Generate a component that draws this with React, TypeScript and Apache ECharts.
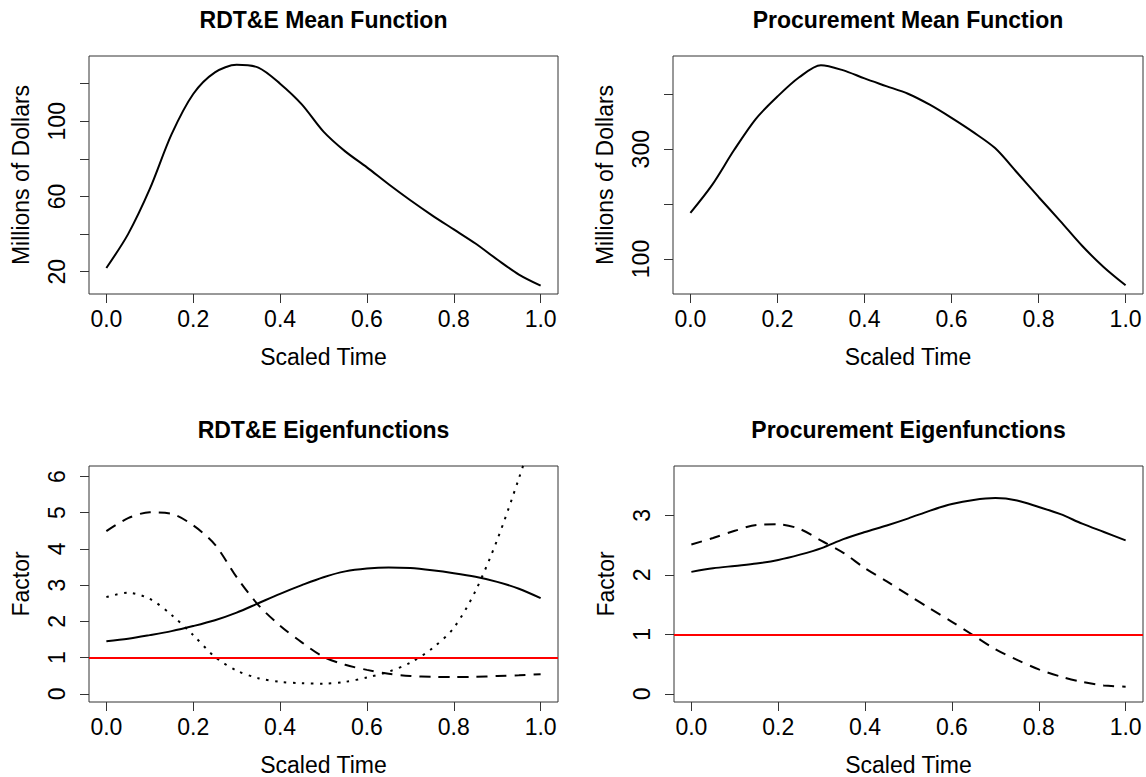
import React, { useEffect, useRef } from "react";
import * as echarts from "echarts";

const scaledTime = [0, 0.05, 0.1, 0.15, 0.2, 0.25, 0.3, 0.35, 0.4, 0.45, 0.5, 0.55, 0.6, 0.65, 0.7, 0.75, 0.8, 0.85, 0.9, 0.95, 1.0];

const rdteMean = [22, 40, 64, 93, 114.5, 126, 130, 128.5, 120, 109, 94.5, 84, 75.5, 66.5, 58, 50, 42.5, 35, 26.5, 18.5, 12.6];
const procMean = [184, 235, 298, 355, 396, 431, 453, 444, 429, 415, 401, 381, 357, 331, 302, 258, 213, 169, 124, 85, 52];

const rdteEigen1 = [1.45, 1.52, 1.62, 1.73, 1.87, 2.03, 2.24, 2.5, 2.76, 3.0, 3.22, 3.38, 3.46, 3.49, 3.47, 3.41, 3.33, 3.23, 3.09, 2.9, 2.64];
const rdteEigen2 = [4.49, 4.85, 5.01, 4.97, 4.65, 4.12, 3.22, 2.45, 1.88, 1.42, 1.02, 0.8, 0.66, 0.55, 0.49, 0.47, 0.46, 0.47, 0.49, 0.51, 0.54];
const rdteEigen3 = [2.67, 2.79, 2.62, 2.18, 1.62, 1.02, 0.64, 0.43, 0.33, 0.29, 0.28, 0.33, 0.45, 0.61, 0.86, 1.25, 1.82, 2.84, 4.25, 5.95, 7.8];

const procEigen1 = [2.05, 2.11, 2.15, 2.19, 2.25, 2.34, 2.45, 2.6, 2.72, 2.83, 2.95, 3.08, 3.19, 3.26, 3.29, 3.25, 3.14, 3.02, 2.86, 2.72, 2.58];
const procEigen2 = [2.51, 2.62, 2.74, 2.84, 2.85, 2.77, 2.57, 2.37, 2.11, 1.89, 1.66, 1.43, 1.21, 0.98, 0.75, 0.57, 0.41, 0.29, 0.2, 0.14, 0.12];

const xTicks = [0, 0.2, 0.4, 0.6, 0.8, 1.0];
const yTicks = [
  [20, 40, 60, 80, 100, 120],
  [100, 200, 300, 400],
  [0, 1, 2, 3, 4, 5, 6],
  [0, 1, 2, 3],
];
const yLabels = [
  [20, 60, 100],
  [100, 300],
  [0, 1, 2, 3, 4, 5, 6],
  [0, 1, 2, 3],
];
const yRanges = [
  [8.16, 134.7],
  [36.2, 469.8],
  [-0.227, 6.29],
  [-0.138, 3.83],
];
const titles = ["RDT&E Mean Function", "Procurement Mean Function", "RDT&E Eigenfunctions", "Procurement Eigenfunctions"];
const yNames = ["Millions of Dollars", "Millions of Dollars", "Factor", "Factor"];
const refLevel = 1;

const FONT = "'Liberation Sans', Arial, Helvetica, sans-serif";

export default function App() {
  const ref = useRef<HTMLDivElement>(null);
  useEffect(() => {
    const chart = echarts.init(ref.current!, null, { renderer: "svg" });
    const grids = [
      { left: 89, top: 56, width: 469, height: 238 },
      { left: 673, top: 56, width: 470, height: 238 },
      { left: 89, top: 466, width: 469, height: 238 },
      { left: 674, top: 466, width: 469, height: 238 },
    ];
    const pair = (vals: number[]) => scaledTime.map((x, i) => [x, vals[i]]);
    const lineSeries = (idx: number, vals: number[], type: any) => ({
      type: "line",
      xAxisIndex: idx,
      yAxisIndex: idx,
      data: pair(vals),
      showSymbol: false,
      smooth: 0.3,
      clip: true,
      lineStyle: { color: "#000", width: 2, type },
      silent: true,
    });
    const refSeries = (idx: number) => ({
      type: "line",
      xAxisIndex: idx,
      yAxisIndex: idx,
      data: [],
      markLine: {
        silent: true,
        symbol: "none",
        label: { show: false },
        lineStyle: { color: "#ff0000", width: 2, type: "solid" },
        data: [{ yAxis: refLevel }],
      },
    });
    const option: any = {
      animation: false,
      backgroundColor: "#fff",
      grid: grids.map((g) => ({ ...g, show: true, borderColor: "#333", borderWidth: 1, backgroundColor: "transparent" })),
      xAxis: grids.map((_, i) => ({
        type: "value",
        gridIndex: i,
        min: -0.04,
        max: 1.04,
        axisLine: { show: false, onZero: false },
        axisTick: { show: true, length: 9, inside: false, lineStyle: { color: "#333" }, customValues: xTicks },
        axisLabel: {
          customValues: xTicks,
          formatter: (v: number) => v.toFixed(1),
          fontSize: 23,
          fontFamily: FONT,
          color: "#000",
          margin: 13,
        },
        splitLine: { show: false },
        name: "Scaled Time",
        nameLocation: "middle",
        nameGap: 51,
        nameTextStyle: { fontSize: 23, fontFamily: FONT, color: "#000" },
      })),
      yAxis: grids.map((_, i) => ({
        type: "value",
        gridIndex: i,
        min: yRanges[i][0],
        max: yRanges[i][1],
        axisLine: { show: false, onZero: false },
        axisTick: { show: true, length: 9, inside: false, lineStyle: { color: "#333" }, customValues: yTicks[i] },
        axisLabel: {
          customValues: yLabels[i],
          rotate: 90,
          fontSize: 23,
          fontFamily: FONT,
          color: "#000",
          margin: 21,
        },
        splitLine: { show: false },
        name: yNames[i],
        nameLocation: "middle",
        nameGap: 57,
        nameTextStyle: { fontSize: 23, fontFamily: FONT, color: "#000" },
      })),
      series: [
        lineSeries(0, rdteMean, "solid"),
        lineSeries(1, procMean, "solid"),
        refSeries(2),
        lineSeries(2, rdteEigen1, "solid"),
        lineSeries(2, rdteEigen2, [11, 8]),
        lineSeries(2, rdteEigen3, [2.5, 6.5]),
        refSeries(3),
        lineSeries(3, procEigen1, "solid"),
        lineSeries(3, procEigen2, [11, 8]),
      ],
      graphic: titles.map((t, i) => ({
        type: "text",
        x: grids[i].left + grids[i].width / 2,
        y: i < 2 ? 20 : 430,
        style: {
          text: t,
          textAlign: "center",
          textVerticalAlign: "middle",
          font: `bold 23px ${FONT}`,
          fill: "#000",
        },
      })),
    };
    chart.setOption(option);
    return () => chart.dispose();
  }, []);
  return <div ref={ref} style={{ position: "absolute", left: 0, top: 0, width: 1146, height: 777, background: "#fff" }} />;
}
